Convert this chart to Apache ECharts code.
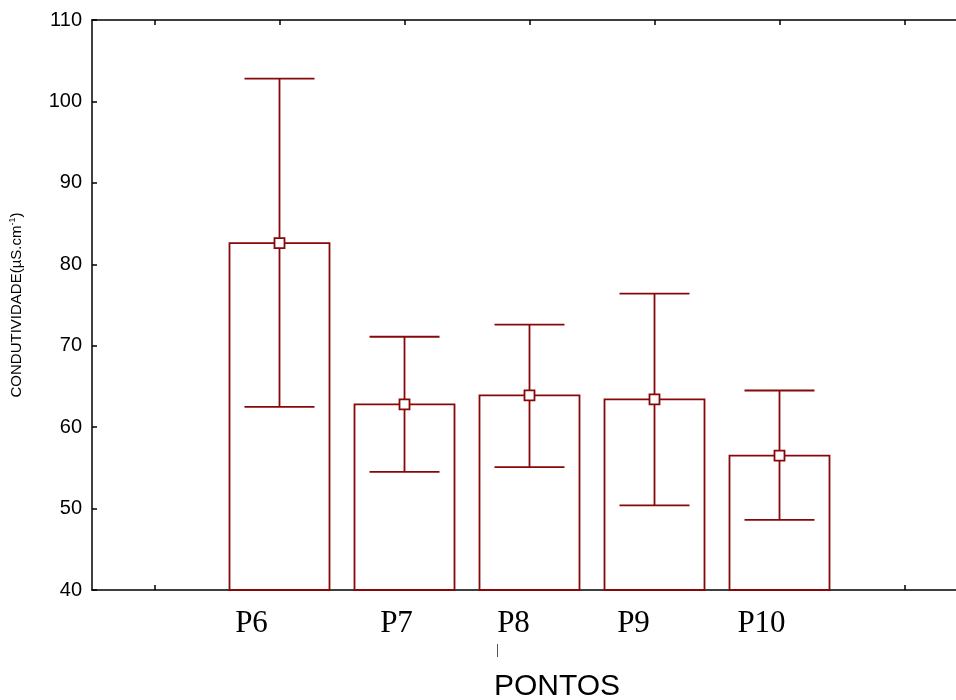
<!DOCTYPE html>
<html>
<head>
<meta charset="utf-8">
<script src="https://cdn.jsdelivr.net/npm/echarts@6/dist/echarts.min.js"></script>
<style>html,body{margin:0;padding:0;background:#fff}#c{width:956px;height:700px}</style>
</head>
<body>
<div id="c"></div>
<script>
var categories = ['', 'P6', 'P7', 'P8', 'P9', 'P10', ''];
var means = [null, 82.6, 62.8, 63.9, 63.4, 56.5, null];
var lows  = [null, 62.5, 54.5, 55.1, 50.4, 48.6, null];
var highs = [null, 102.8, 71.1, 72.6, 76.4, 64.5, null];
var yTicks = [40, 50, 60, 70, 80, 90, 100, 110];
var labelShift = [0, 28, 8, 16, 21, 18, 0];

var RED = '#860808';
var seriesData = [];
for (var i = 0; i < categories.length; i++) {
  if (means[i] !== null) seriesData.push([i, means[i], lows[i], highs[i]]);
}
var rich = {};
for (var k = 0; k < categories.length; k++) {
  rich['p' + k] = {fontFamily: 'Liberation Serif', fontSize: 31, color: '#000', padding: [0, 2 * labelShift[k], 0, 0]};
}

var chart = echarts.init(document.getElementById('c'), null, {renderer: 'canvas'});
chart.setOption({
  animation: false,
  backgroundColor: '#fff',
  grid: {left: 92, top: 20, bottom: 110, right: -11, containLabel: false, outerBoundsMode: 'none'},
  xAxis: [{
    type: 'category', data: categories, boundaryGap: true, position: 'bottom',
    name: 'PONTOS', nameLocation: 'middle', nameGap: 82,
    nameTextStyle: {fontFamily: 'Liberation Sans', fontSize: 30, color: '#000', padding: [0, 0, 0, 55]},
    axisLine: {show: true, lineStyle: {color: '#000', width: 1.5}},
    axisTick: {show: true, inside: true, alignWithLabel: true, length: 5, lineStyle: {color: '#000', width: 1.5}},
    axisLabel: {margin: 18, interval: 0,
      formatter: function (v, idx) { return v ? '{p' + idx + '|' + v + '}' : ''; },
      rich: rich},
    splitLine: {show: false}
  }, {
    type: 'category', data: categories, boundaryGap: true, position: 'top',
    axisLine: {show: true, lineStyle: {color: '#000', width: 1.5}},
    axisTick: {show: true, inside: true, alignWithLabel: true, length: 5, lineStyle: {color: '#000', width: 1.5}},
    axisLabel: {show: false}, splitLine: {show: false}
  }],
  yAxis: {
    type: 'value', min: yTicks[0], max: yTicks[yTicks.length - 1], interval: 10,
    name: '{t|CONDUTIVIDADE(µS.cm}{s|-1}{t|)}', nameLocation: 'middle', nameGap: 67, nameRotate: 90,
    nameTextStyle: {rich: {
      t: {fontFamily: 'Liberation Sans', fontSize: 15, color: '#000'},
      s: {fontFamily: 'Liberation Sans', fontSize: 9, color: '#000', verticalAlign: 'top', padding: [0, 0, 8, 0]}
    }},
    axisLine: {show: true, lineStyle: {color: '#000', width: 1.5}},
    axisTick: {show: true, inside: true, length: 5, lineStyle: {color: '#000', width: 1.5}},
    axisLabel: {margin: 10, fontFamily: 'Liberation Sans', fontSize: 20, color: '#000'},
    splitLine: {show: false}
  },
  series: [{
    type: 'custom',
    xAxisIndex: 0,
    clip: false,
    data: seriesData,
    renderItem: function (params, api) {
      var x = api.value(0);
      var m = api.coord([x, api.value(1)]);
      var lo = api.coord([x, api.value(2)]);
      var hi = api.coord([x, api.value(3)]);
      var base = api.coord([x, 40]);
      var slot = api.size([1, 0])[0];
      var bw = slot * 0.8;
      var cw = slot * 0.56;
      var sq = 10;
      var st = {stroke: RED, lineWidth: 1.8, fill: null};
      return {type: 'group', children: [
        {type: 'rect', shape: {x: m[0] - bw / 2, y: m[1], width: bw, height: base[1] - m[1]}, style: {fill: '#fff', stroke: RED, lineWidth: 1.8}},
        {type: 'line', shape: {x1: m[0], y1: hi[1], x2: m[0], y2: lo[1]}, style: st},
        {type: 'line', shape: {x1: m[0] - cw / 2, y1: hi[1], x2: m[0] + cw / 2, y2: hi[1]}, style: st},
        {type: 'line', shape: {x1: m[0] - cw / 2, y1: lo[1], x2: m[0] + cw / 2, y2: lo[1]}, style: st},
        {type: 'rect', shape: {x: m[0] - sq / 2, y: m[1] - sq / 2, width: sq, height: sq}, style: {fill: '#fff', stroke: RED, lineWidth: 1.8}}
      ]};
    }
  }],
  graphic: [{type: 'line', shape: {x1: 497.5, y1: 644, x2: 497.5, y2: 657}, style: {stroke: '#555', lineWidth: 1}}]
});
</script>
</body>
</html>
